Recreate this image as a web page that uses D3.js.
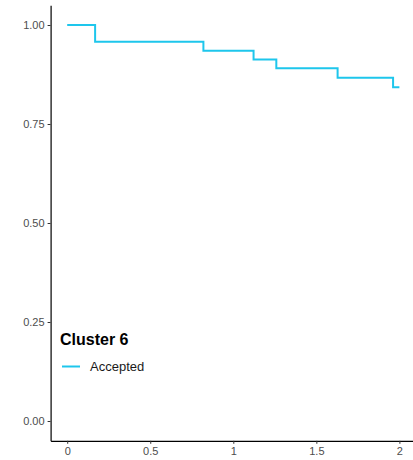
<!DOCTYPE html>
<html><head><meta charset="utf-8">
<script src="https://cdn.jsdelivr.net/npm/d3@7"></script>
<style>body{margin:0;background:#fff;} svg{display:block;}</style>
</head><body>
<script>
const times = [0, 0.168, 0.82, 1.122, 1.259, 1.628, 1.962, 2.0];
const survival = [1.0, 0.958, 0.935, 0.913, 0.891, 0.867, 0.843, 0.843];
const xTicks = [0, 0.5, 1, 1.5, 2];
const xTickLabels = ["0", "0.5", "1", "1.5", "2"];
const yTicks = [0, 0.25, 0.5, 0.75, 1];
const yTickLabels = ["0.00", "0.25", "0.50", "0.75", "1.00"];
const legendTitle = "Cluster 6";
const seriesName = "Accepted";

const W = 413, H = 460;
const svg = d3.select("body").append("svg").attr("width", W).attr("height", H);
const x = d3.scaleLinear().domain([-0.1, 2.1]).range([50.6, 416]);
const y = d3.scaleLinear().domain([-0.05, 1.05]).range([440.8, 5.2]);
const color = "#1EC6EC";

const line = d3.line().x(d => x(d[0])).y(d => y(d[1])).curve(d3.curveStepAfter);
svg.append("path").datum(times.map((t, i) => [t, survival[i]]))
  .attr("d", line).attr("fill", "none").attr("stroke", color).attr("stroke-width", 2);

const xAxis = d3.axisBottom(x).tickValues(xTicks).tickFormat((d, i) => xTickLabels[i]).tickSize(3).tickSizeOuter(0).tickPadding(3);
const gx = svg.append("g").attr("transform", `translate(0,${y(-0.05)})`).call(xAxis);
const yAxis = d3.axisLeft(y).tickValues(yTicks).tickFormat((d, i) => yTickLabels[i]).tickSize(3).tickSizeOuter(0).tickPadding(3);
const gy = svg.append("g").attr("transform", `translate(${x(-0.1)},0)`).call(yAxis);
[gx, gy].forEach(g => {
  g.select(".domain").attr("stroke", "#000").attr("stroke-width", 1.2);
  g.selectAll(".tick line").attr("stroke", "#333");
  g.selectAll(".tick text").attr("fill", "#4d4d4d").style("font-family", "Liberation Sans, Arial, sans-serif").style("font-size", "11px");
});

const lg = svg.append("g");
lg.append("text").attr("x", 60).attr("y", 345).text(legendTitle)
  .style("font-family", "Liberation Sans, Arial, sans-serif").style("font-size", "16px").style("font-weight", "bold").attr("fill", "#000");
lg.append("line").attr("x1", 62).attr("x2", 80).attr("y1", 366.5).attr("y2", 366.5).attr("stroke", color).attr("stroke-width", 2);
lg.append("text").attr("x", 90).attr("y", 371).text(seriesName)
  .style("font-family", "Liberation Sans, Arial, sans-serif").style("font-size", "13px").attr("fill", "#1a1a1a");
</script>
</body></html>
